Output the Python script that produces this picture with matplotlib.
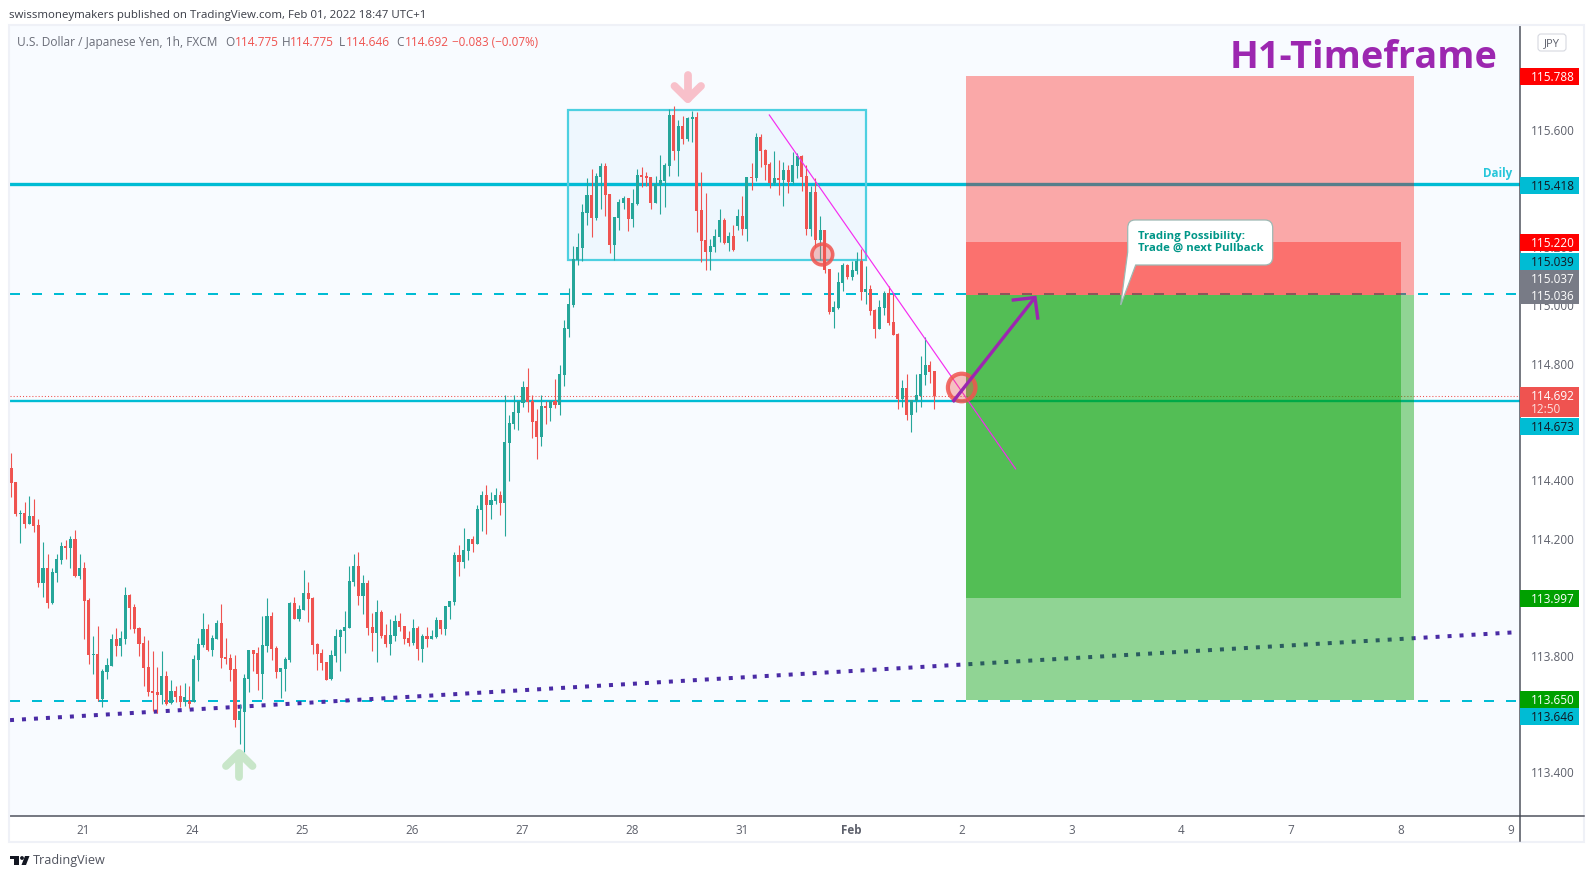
import numpy as np
import matplotlib
matplotlib.use("Agg")
import matplotlib.pyplot as plt
from matplotlib.patches import Rectangle, Circle, FancyBboxPatch, PathPatch, Polygon
from matplotlib.path import Path
from matplotlib.transforms import ScaledTranslation

plt.rcParams['font.family'] = ['Open Sans', 'DejaVu Sans']

opens = [
114.443,114.396,114.286,114.290,114.252,114.279,114.248,114.050,114.101,113.981,
114.084,114.129,114.176,114.170,114.200,114.074,114.101,113.991,113.803,113.806,
113.652,113.745,113.765,113.858,113.834,113.858,114.009,113.967,113.895,113.844,
113.762,113.680,113.676,113.666,113.731,113.638,113.680,113.662,113.642,113.645,
113.642,113.786,113.837,113.892,113.820,113.858,113.913,113.796,113.793,113.755,
113.580,113.608,113.721,113.820,113.810,113.738,113.834,113.937,113.827,113.745,
113.755,113.786,113.981,113.926,113.958,114.016,113.998,113.841,113.810,113.779,
113.721,113.800,113.865,113.885,113.896,114.054,114.108,114.005,114.050,113.899,
113.879,113.951,113.872,113.841,113.869,113.920,113.903,113.862,113.845,113.896,
113.824,113.869,113.858,113.865,113.923,113.892,113.968,113.985,114.146,114.122,
114.160,114.201,114.184,114.300,114.352,114.317,114.331,114.352,114.324,114.530,
114.595,114.633,114.667,114.722,114.674,114.605,114.550,114.656,114.650,114.674,
114.660,114.763,114.920,115.003,115.157,115.198,115.318,115.380,115.301,115.441,
115.479,115.383,115.208,115.301,115.352,115.369,115.297,115.349,115.448,115.445,
115.441,115.352,115.414,115.428,115.479,115.654,115.530,115.616,115.572,115.640,
115.647,115.328,115.225,115.184,115.201,115.236,115.294,115.215,115.239,115.273,
115.308,115.263,115.441,115.438,115.578,115.534,115.486,115.421,115.438,115.431,
115.465,115.424,115.479,115.513,115.445,115.263,115.390,115.226,115.260,115.126,
114.979,114.992,115.078,115.140,115.099,115.119,115.154,115.047,115.058,114.986,
114.921,114.992,115.044,114.945,114.903,114.681,114.718,114.626,114.674,114.691,
114.763,114.797,114.775]
highs = [
114.494,114.396,114.300,114.327,114.348,114.338,114.269,114.190,114.149,114.101,
114.149,114.190,114.197,114.211,114.231,114.149,114.122,113.998,113.868,113.902,
113.755,113.793,113.875,113.895,113.885,114.036,114.012,113.978,113.899,113.868,
113.854,113.817,113.762,113.817,113.748,113.717,113.697,113.700,113.707,113.697,
113.803,113.860,113.947,113.909,113.871,113.923,113.978,113.861,113.806,113.803,
113.635,113.738,113.820,113.820,113.830,113.937,113.998,113.950,113.834,113.758,
113.796,113.985,114.002,113.974,114.095,114.054,114.002,113.845,113.824,113.779,
113.821,113.892,113.892,113.954,114.108,114.149,114.156,114.077,114.060,113.947,
113.992,113.958,113.910,113.927,113.941,113.947,113.903,113.885,113.927,113.903,
113.876,113.899,113.889,113.934,113.923,113.971,113.988,114.156,114.180,114.238,
114.201,114.211,114.317,114.365,114.386,114.362,114.376,114.365,114.694,114.626,
114.694,114.674,114.742,114.787,114.694,114.646,114.694,114.674,114.677,114.749,
114.797,114.951,115.061,115.205,115.249,115.349,115.438,115.469,115.455,115.489,
115.489,115.383,115.304,115.366,115.376,115.369,115.400,115.469,115.476,115.458,
115.441,115.445,115.517,115.489,115.674,115.685,115.637,115.650,115.647,115.667,
115.664,115.458,115.386,115.229,115.263,115.332,115.301,115.253,115.277,115.332,
115.376,115.441,115.489,115.592,115.589,115.537,115.493,115.530,115.500,115.493,
115.483,115.527,115.524,115.517,115.483,115.411,115.438,115.308,115.260,115.126,
115.016,115.116,115.147,115.143,115.154,115.184,115.195,115.136,115.071,114.989,
115.020,115.051,115.068,115.044,114.907,114.746,114.766,114.677,114.766,114.828,
114.893,114.811,114.775]
lows = [
114.346,114.279,114.188,114.238,114.252,114.226,114.037,114.003,113.965,113.979,
114.053,114.115,114.132,114.101,114.070,114.063,113.858,113.772,113.738,113.646,
113.625,113.721,113.765,113.800,113.800,113.841,113.892,113.878,113.800,113.697,
113.662,113.611,113.603,113.635,113.632,113.635,113.642,113.625,113.628,113.621,
113.642,113.714,113.830,113.817,113.800,113.858,113.758,113.772,113.714,113.556,
113.498,113.471,113.676,113.748,113.683,113.652,113.813,113.786,113.724,113.656,
113.680,113.779,113.926,113.919,113.958,113.916,113.807,113.752,113.752,113.716,
113.716,113.779,113.748,113.810,113.896,114.040,113.975,113.944,113.872,113.817,
113.779,113.862,113.831,113.804,113.852,113.885,113.841,113.835,113.838,113.786,
113.779,113.831,113.858,113.862,113.875,113.872,113.927,113.975,114.074,114.101,
114.129,114.156,114.184,114.228,114.218,114.269,114.321,114.283,114.211,114.400,
114.578,114.575,114.653,114.636,114.547,114.475,114.520,114.595,114.605,114.650,
114.626,114.725,114.893,114.996,115.140,115.153,115.277,115.236,115.294,115.332,
115.308,115.181,115.157,115.260,115.332,115.256,115.270,115.345,115.407,115.410,
115.332,115.352,115.315,115.339,115.445,115.500,115.445,115.554,115.565,115.561,
115.253,115.150,115.123,115.123,115.184,115.219,115.212,115.188,115.188,115.260,
115.243,115.222,115.397,115.428,115.476,115.431,115.404,115.414,115.380,115.342,
115.387,115.417,115.438,115.393,115.243,115.239,115.202,115.157,115.112,114.972,
114.924,114.989,115.051,115.092,115.088,115.109,115.020,115.006,114.968,114.890,
114.921,114.968,114.934,114.900,114.646,114.653,114.609,114.568,114.636,114.653,
114.729,114.735,114.646]
closes = [
114.394,114.286,114.290,114.252,114.279,114.245,114.050,114.101,113.981,114.087,
114.132,114.176,114.170,114.200,114.074,114.101,113.988,113.803,113.806,113.652,
113.748,113.769,113.858,113.834,113.861,114.009,113.964,113.892,113.841,113.758,
113.676,113.673,113.666,113.731,113.635,113.680,113.659,113.642,113.659,113.635,
113.789,113.841,113.892,113.820,113.861,113.913,113.793,113.789,113.752,113.580,
113.611,113.724,113.820,113.806,113.738,113.837,113.937,113.824,113.745,113.758,
113.789,113.981,113.926,113.961,114.016,113.995,113.838,113.807,113.776,113.718,
113.803,113.869,113.889,113.899,114.057,114.108,114.005,114.050,113.896,113.879,
113.951,113.869,113.841,113.872,113.920,113.899,113.858,113.845,113.896,113.824,
113.869,113.858,113.869,113.923,113.892,113.971,113.988,114.146,114.122,114.163,
114.201,114.184,114.304,114.352,114.317,114.334,114.352,114.324,114.533,114.598,
114.636,114.674,114.722,114.670,114.602,114.550,114.656,114.650,114.674,114.660,
114.766,114.924,115.006,115.160,115.201,115.321,115.380,115.301,115.445,115.479,
115.380,115.208,115.304,115.356,115.369,115.297,115.352,115.448,115.441,115.438,
115.352,115.417,115.431,115.482,115.654,115.530,115.616,115.572,115.644,115.647,
115.325,115.222,115.184,115.205,115.239,115.294,115.215,115.239,115.191,115.308,
115.263,115.441,115.438,115.578,115.530,115.483,115.421,115.438,115.431,115.465,
115.424,115.483,115.513,115.441,115.263,115.390,115.226,115.260,115.123,114.979,
114.996,115.082,115.140,115.099,115.123,115.154,115.047,115.058,114.982,114.921,
114.996,115.044,114.941,114.900,114.681,114.718,114.626,114.677,114.694,114.766,
114.797,114.773,114.692]

day_labels = ['21', '24', '25', '26', '27', '28', '31', 'Feb', '2', '3', '4', '7', '8', '9']
price_ticks = [113.4, 113.8, 114.2, 114.4, 114.8, 115.0, 115.2, 115.4, 115.6]

level_daily = 115.418
level_mid = 114.673
level_dash_hi = 115.039
level_dash_lo = 113.646
last_close = 114.692
range_box_top, range_box_bottom = 115.671, 115.157
entry = 115.037
stop_outer, stop_inner = 115.788, 115.220
target_inner, target_outer = 113.997, 113.650
trend_prices = (115.654, 114.441)
support_prices = (113.580, 113.881)

W, H = 1594, 879
AX_L, AX_R, AX_T, AX_B = 10, 1520, 26, 817
STEP = 4.571
GREEN, RED = '#26a69a', '#ef5350'
CYAN = '#00bcd4'
AXIS_C = '#50535e'
TXT = '#5d606b'

def idx(px):
    return (px - 11) / STEP

fig = plt.figure(figsize=(W / 100, H / 100), dpi=100, facecolor='white')
ax = fig.add_axes([AX_L / W, (H - AX_B) / H, (AX_R - AX_L) / W, (AX_B - AX_T) / H])
ax.set_facecolor('#f8fbff')
ax.set_xlim(idx(AX_L), idx(AX_R))
ax.set_ylim(113.2514, 115.9624)

x = np.arange(len(opens))
o, h, l, c = map(np.array, (opens, highs, lows, closes))
col = np.where(c >= o, GREEN, RED)
ax.vlines(x, l, h, colors=col, lw=0.8, zorder=3)
ax.bar(x, np.maximum(np.abs(c - o), 0.0035), bottom=np.minimum(o, c), width=0.68,
       color=col, linewidth=0, zorder=3)

# horizontal levels
ax.axhline(level_daily, color=CYAN, lw=2.4, zorder=2)
ax.axhline(level_mid, color=CYAN, lw=1.7, zorder=2)
ax.axhline(level_dash_hi, color=CYAN, lw=1.44, ls=(0, (5, 6)), zorder=2)
ax.axhline(level_dash_lo, color=CYAN, lw=1.44, ls=(0, (5, 6)), zorder=2)
ax.axhline(last_close, color=RED, lw=0.75, ls=(0, (1, 2)), zorder=2)

# support line (dotted)
ax.plot([idx(10), idx(1515)], support_prices, color='#4a2ba5', lw=2.88,
        ls=(0, (1, 2)), dash_capstyle='butt', zorder=2)

# range box
ax.add_patch(Rectangle((idx(568.3), range_box_bottom), idx(866) - idx(568.3),
                       range_box_top - range_box_bottom, fc=(0.13, 0.65, 0.95, 0.045),
                       ec='#4dd0e1', lw=1.6, zorder=2.5))

# risk / reward boxes
rx0, rx1, rx2 = idx(966), idx(1414), idx(1401)
for y0, y1, right, colr, al in [
        (entry, stop_outer, rx1, (1, 0.03, 0), .34),
        (entry, stop_inner, rx2, (1, 0.03, 0), .34),
        (target_outer, entry, rx1, (0, 160 / 255, 0), .42),
        (target_inner, entry, rx2, (0, 160 / 255, 0), .42)]:
    ax.add_patch(Rectangle((rx0, y0), right - rx0, y1 - y0, fc=colr + (al,), ec='none', zorder=4))

# trend line
ax.plot([idx(769.3), idx(1015.6)], trend_prices, color='#f52cf0', lw=0.85, zorder=5)

ax.spines[['top', 'left']].set_visible(False)
ax.spines[['right', 'bottom']].set_color(AXIS_C)
ax.spines[['right', 'bottom']].set_linewidth(1.1)
ax.yaxis.tick_right()
ax.set_yticks(price_ticks, [f'{p:.3f}' for p in price_ticks])
ax.tick_params(axis='y', length=0, pad=7.5, labelsize=8.5, labelcolor=TXT)
lift = ScaledTranslation(0, 1.4 / 100, fig.dpi_scale_trans)
for t in ax.get_yticklabels():
    t.set_transform(t.get_transform() + lift)
ax.set_xticks([15.7 + 24.03 * k for k in range(len(day_labels))], day_labels)
ax.tick_params(axis='x', length=0, pad=5, labelsize=8.4, labelcolor=TXT)
for t in ax.get_xticklabels():
    if t.get_text() == 'Feb':
        t.set_fontweight('bold')

# overlay in pixel coordinates
ov = fig.add_axes([0, 0, 1, 1], zorder=10)
ov.set_xlim(0, W)
ov.set_ylim(H - 1, -1)
ov.axis('off')
ov.patch.set_alpha(0)

# chart frame
ov.add_patch(Rectangle((9.5, 25), 1574.5, 817, fc='none', ec='#eff1f7', lw=1.5, zorder=0))
ov.plot([1520, 1520], [816, 841], color=AXIS_C, lw=1.1, zorder=1)
ov.plot([1520, 1584], [816, 816], color=AXIS_C, lw=1.1, zorder=1)

# circles
ov.add_patch(Circle((822.3, 254.5), 10.4, fc=(0.94, 0.33, 0.31, .35), ec=(0.94, 0.33, 0.31, .85), lw=2.6))
ov.add_patch(Circle((961.7, 387.5), 13.8, fc=(0.94, 0.33, 0.31, .35), ec=(0.94, 0.33, 0.31, .85), lw=3))

# purple arrow
ARC = '#9c27b0'
ov.plot([952.7, 1035], [402, 297.5], color=ARC, lw=2.4, solid_capstyle='butt')
ov.plot([1013.3, 1035, 1037.7], [300, 297.5, 318], color=ARC, lw=2.4, solid_joinstyle='miter')

# signal arrows
PINK, MINT = '#f8c0ca', '#c8e6c9'
ov.plot([687.7, 687.7], [75, 99], color=PINK, lw=5.6, solid_capstyle='round')
ov.plot([674.5, 687.7, 701], [86, 99, 86], color=PINK, lw=5.6, solid_capstyle='round', solid_joinstyle='round')
ov.plot([239.3, 239.3], [754, 777], color=MINT, lw=5.6, solid_capstyle='round')
ov.plot([226, 239.3, 252.5], [766, 753, 766], color=MINT, lw=5.6, solid_capstyle='round', solid_joinstyle='round')

# callout
verts = [(1135, 220), (1265, 220), (1272.7, 220), (1272.7, 228), (1272.7, 257), (1272.7, 265), (1265, 265),
         (1135.7, 265), (1120.7, 305), (1127.7, 252), (1127.7, 228), (1127.7, 220), (1135, 220), (1135, 220)]
codes = [Path.MOVETO, Path.LINETO, Path.CURVE3, Path.CURVE3, Path.LINETO, Path.CURVE3, Path.CURVE3,
         Path.LINETO, Path.LINETO, Path.LINETO, Path.LINETO, Path.CURVE3, Path.CURVE3, Path.CLOSEPOLY]
ov.add_patch(PathPatch(Path(verts, codes), fc='white', ec='#9db8b3', lw=0.9, zorder=6))
ov.text(1138.3, 235.2, 'Trading Possibility:', color='#009688', fontsize=8.2, fontweight='bold', va='center', zorder=7)
ov.text(1138.3, 247.4, 'Trade @ next Pullback', color='#009688', fontsize=8.2, fontweight='bold', va='center', zorder=7)

# title and notes
ov.text(1230, 57, 'H1-Timeframe', color=ARC, fontsize=27.2, fontweight='bold', va='center')
ov.text(1512.7, 173, 'Daily', color='#26c6da', fontsize=8.4, fontweight='bold', va='center', ha='right')

# price labels
labels = [
    (76.7, 17, '115.788', '#ff0000', 'white'),
    (185, 17, '115.418', CYAN, '#131722'),
    (242.7, 17, '115.220', '#ff0000', 'white'),
    (261.7, 17, '115.039', CYAN, '#131722'),
    (278.7, 17, '115.037', '#787b86', 'white'),
    (295.7, 17, '115.036', '#787b86', 'white'),
    (426.3, 17, '114.673', CYAN, '#131722'),
    (598.3, 17, '113.997', '#00a000', 'white'),
    (699.7, 17, '113.650', '#00a000', 'white'),
    (716.7, 17, '113.646', CYAN, '#131722'),
]
for yc, hh, s, bg, fg in labels:
    ov.add_patch(Rectangle((1520.5, yc - hh / 2), 58.5, hh, fc=bg, ec='none', zorder=3))
    ov.text(1530.5, yc, s, color=fg, fontsize=8.5, va='center', zorder=4)
ov.add_patch(Rectangle((1520.5, 387), 58.5, 30, fc=RED, ec='none', zorder=3))
ov.text(1530.5, 395.5, '114.692', color='white', fontsize=8.5, va='center', zorder=4)
ov.text(1530.5, 409, '12:50', color='#fde0df', fontsize=8.5, va='center', zorder=4)

# currency button
ov.add_patch(FancyBboxPatch((1540, 36), 24, 13, boxstyle='round,pad=2,rounding_size=3', fc='white', ec='#d6d8e0', lw=0.8))
ov.text(1552, 42.5, 'JPY', color=TXT, fontsize=8, ha='center', va='center')

# headers
ov.text(9.5, 14.5, 'swissmoneymakers published on TradingView.com, Feb 01, 2022 18:47 UTC+1',
        color='#3a3d47', fontsize=8.25, va='center')
ov.text(17.3, 41.5, 'U.S. Dollar / Japanese Yen, 1h, FXCM', color='#6a6d78', fontsize=8.6, va='center')
for xp, s, colr, fs in [(225.7, 'O', '#6a6d78', 8.6), (235, '114.775', RED, 8.6), (281.6, 'H', '#6a6d78', 8.6),
                        (290, '114.775', RED, 8.6), (338.5, 'L', '#6a6d78', 8.6), (346, '114.646', RED, 8.6),
                        (396.5, 'C', '#6a6d78', 8.6), (404.6, '114.692', RED, 8.6),
                        (452, '\u22120.083 (\u22120.07%)', RED, 8.4)]:
    ov.text(xp, 41.5, s, color=colr, fontsize=fs, va='center')

# TradingView logo
ov.add_patch(Polygon([(10, 856), (19, 856), (19, 865), (14.5, 865), (14.5, 859.5), (10, 859.5)], fc='#131722', ec='none'))
ov.add_patch(Circle((22, 858), 1.9, fc='#131722', ec='none'))
ov.add_patch(Polygon([(25, 856), (29.5, 856), (26, 865), (21.5, 865)], fc='#131722', ec='none'))
ov.text(33.3, 860, 'TradingView', color='#50535e', fontsize=9.1, va='center')

fig.savefig('out.png', dpi=100, facecolor='white')
